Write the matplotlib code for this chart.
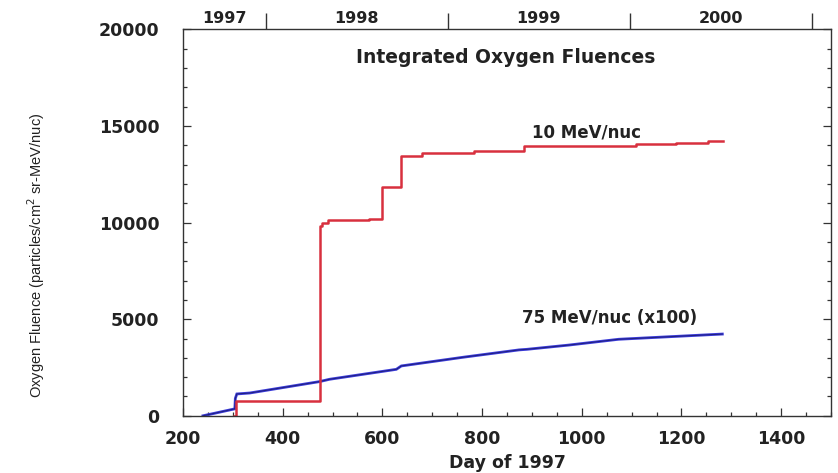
import numpy as np
import matplotlib
matplotlib.use("Agg")
import matplotlib.pyplot as plt
from matplotlib.ticker import MultipleLocator
from matplotlib.font_manager import FontProperties

# integrated oxygen fluence, 10 MeV/nuc (step curve)
red_day = [303, 306, 474, 478, 490, 574, 600, 637, 680, 784, 884, 1108, 1190, 1254, 1284]
red_flu = [0, 740, 9800, 10000, 10120, 10200, 11850, 13450, 13620, 13700, 13970, 14050, 14140, 14240, 14240]

# integrated oxygen fluence, 75 MeV/nuc, scaled x100
blue_day = [240, 304, 305, 308, 334, 474, 494, 628, 638, 762, 874, 890, 974, 1074, 1174, 1282]
blue_flu = [0, 360, 900, 1130, 1180, 1770, 1890, 2405, 2580, 3030, 3410, 3440, 3660, 3960, 4090, 4230]

year_names = ["1997", "1998", "1999", "2000"]
year_starts = [1, 366, 731, 1096, 1462]

xmin, xmax = 200, 1500
ymin, ymax = 0, 20000

bold = dict(family="DejaVu Sans", weight="bold")

fig = plt.figure(figsize=(8.38, 4.73), dpi=100)
ax = fig.add_axes([183/838, 1-415.8/473, 648/838, 386.5/473])

ax.plot(blue_day, blue_flu, color="#3a3ad8", lw=2.0, solid_joinstyle="miter")
ax.plot(blue_day, blue_flu, color="#1c1c70", lw=0.6)
ax.plot(red_day, red_flu, color="#d8303e", lw=1.8, drawstyle="steps-post")

ax.set_xlim(xmin, xmax)
ax.set_ylim(ymin, ymax)
ax.xaxis.set_major_locator(MultipleLocator(200))
ax.xaxis.set_minor_locator(MultipleLocator(50))
ax.yaxis.set_major_locator(MultipleLocator(5000))
ax.yaxis.set_minor_locator(MultipleLocator(1000))
ax.tick_params(which="both", direction="in", top=True, right=True,
               color="#333333", width=0.9)
ax.tick_params(which="major", length=5.5)
ax.tick_params(which="minor", length=2.6)
ax.tick_params(axis="x", which="major", pad=10)
ax.tick_params(axis="y", which="major", pad=17)
for lab in ax.get_xticklabels() + ax.get_yticklabels():
    lab.set_fontproperties(FontProperties(**bold, size=12.5))
    lab.set_color("#222222")
for sp in ax.spines.values():
    sp.set_color("#333333")
    sp.set_linewidth(1.0)

ax.set_xlabel("Day of 1997", fontsize=12.5, color="#222222", **bold)
ax.xaxis.set_label_coords(0.5, -0.1)
ax.set_ylabel("Oxygen Fluence (particles/cm$^2$ sr-MeV/nuc)",
              family="Liberation Sans", fontsize=10.5, color="#222222")
ax.yaxis.set_label_coords(-0.21, 0.416)

# year scale along the top edge
top = ax.twiny()
top.set_xlim(xmin, xmax)
bounds = [d for d in year_starts if xmin < d < xmax]
top.set_xticks(bounds)
top.set_xticklabels([])
top.tick_params(which="major", direction="out", length=11.5, width=1.0, color="#333333")
mids = []
for a, b in zip(year_starts[:-1], year_starts[1:]):
    mids.append((max(a, xmin) + min(b, xmax)) / 2)
top.set_xticks(mids, minor=True)
top.set_xticklabels(year_names, minor=True, fontsize=11.5, color="#222222", **bold)
top.tick_params(which="minor", length=0, pad=2.5)
for sp in top.spines.values():
    sp.set_visible(False)

ax.text(0.498, 0.928, "Integrated Oxygen Fluences", transform=ax.transAxes,
        ha="center", va="center", fontsize=13.5, color="#222222", **bold)
ax.text(0.622, 0.732, "10 MeV/nuc", transform=ax.transAxes,
        ha="center", va="center", fontsize=12, color="#222222", **bold)
ax.text(0.659, 0.253, "75 MeV/nuc (x100)", transform=ax.transAxes,
        ha="center", va="center", fontsize=12, color="#222222", **bold)

fig.savefig("out.png", dpi=100)
